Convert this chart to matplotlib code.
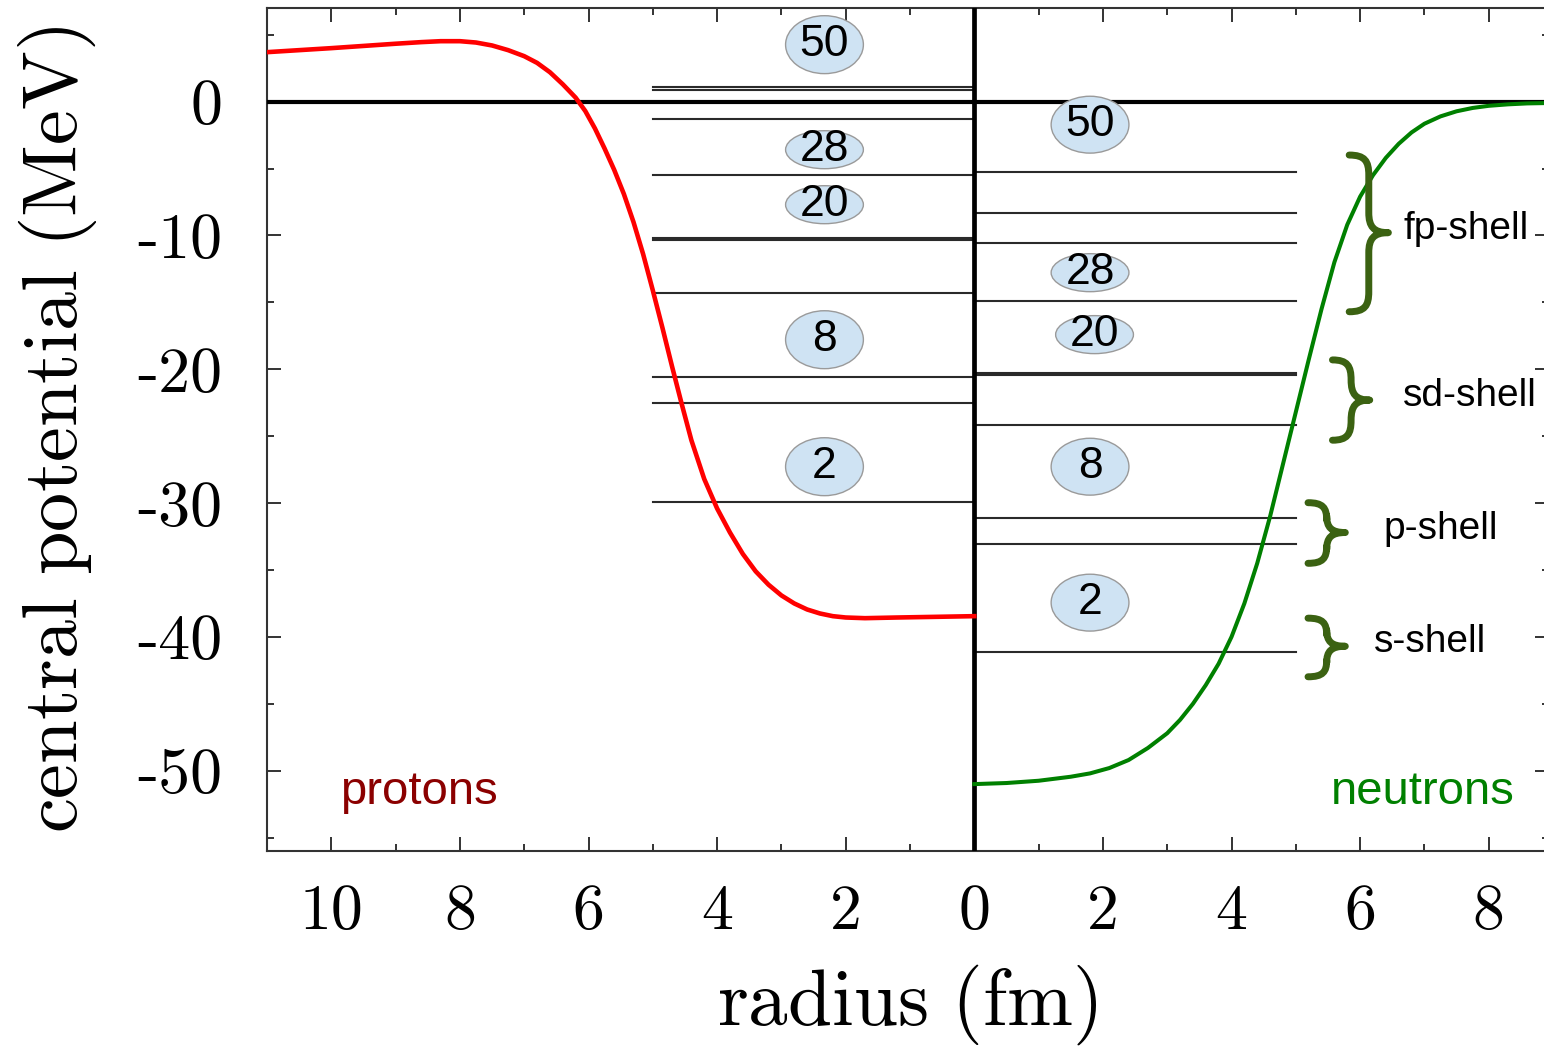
import numpy as np
import matplotlib
matplotlib.use("Agg")
import matplotlib.pyplot as plt
from matplotlib.patches import Ellipse, PathPatch
from matplotlib.path import Path

plt.rcParams['mathtext.fontset'] = 'cm'

# proton central potential (radius in fm, V in MeV), drawn mirrored at -r
p_r = [0.0, 0.6, 1.2, 1.7, 2.0, 2.2, 2.4, 2.6, 2.8, 3.0, 3.2, 3.4, 3.6, 3.8, 4.0,
       4.2, 4.4, 4.55, 4.7, 4.85, 5.0, 5.15, 5.3, 5.45, 5.6, 5.75, 5.9, 6.05, 6.2,
       6.4, 6.6, 6.8, 7.0, 7.25, 7.5, 7.75, 8.0, 8.3, 8.6, 9.0, 10.0, 11.0]
p_v = [-38.45, -38.5, -38.55, -38.6, -38.55, -38.45, -38.25, -37.95, -37.5, -36.9,
       -36.1, -35.1, -33.8, -32.2, -30.4, -28.2, -25.3, -22.6, -19.8, -16.9, -14.1,
       -11.4, -9.0, -6.9, -5.1, -3.5, -2.0, -0.7, 0.3, 1.3, 2.2, 2.9, 3.4, 3.85, 4.2,
       4.42, 4.52, 4.52, 4.45, 4.33, 4.0, 3.7]

# neutron central potential
n_r = [0.0, 0.5, 1.0, 1.5, 1.8, 2.1, 2.4, 2.7, 3.0, 3.2, 3.4, 3.6, 3.8, 4.0, 4.2,
       4.4, 4.6, 4.8, 5.0, 5.2, 5.4, 5.6, 5.8, 6.0, 6.2, 6.4, 6.6, 6.8, 7.0, 7.25,
       7.5, 7.75, 8.0, 8.3, 8.6, 8.95]
n_v = [-51.0, -50.92, -50.75, -50.45, -50.2, -49.8, -49.2, -48.3, -47.2, -46.2,
       -45.0, -43.6, -42.0, -40.0, -37.5, -34.5, -31.0, -27.1, -23.2, -19.3, -15.5,
       -12.0, -9.2, -7.1, -5.5, -4.2, -3.15, -2.3, -1.65, -1.1, -0.72, -0.47, -0.31,
       -0.2, -0.13, -0.1]

# single-particle levels (MeV)
p_levels = [1.12, 0.84, -1.27, -5.51, -10.16, -10.31, -14.3, -20.57, -22.5, -29.9]
n_levels = [-5.23, -8.32, -10.56, -14.89, -20.25, -20.45, -24.2, -31.15, -33.03, -41.1]

# magic numbers in the gaps (label, energy of bubble centre)
p_magic = ['50', '28', '20', '8', '2']
p_magic_e = [4.26, -3.59, -7.7, -17.79, -27.28]
n_magic = ['50', '28', '20', '8', '2']
n_magic_e = [-1.72, -12.78, -17.41, -27.28, -37.44]

# shell braces: label, top, bottom, tip energy
shells = ['fp-shell', 'sd-shell', 'p-shell', 's-shell']
shell_top = [-3.99, -19.3, -29.97, -38.6]
shell_bot = [-15.7, -25.3, -34.5, -42.98]
shell_tip = [-9.79, -22.3, -32.2, -40.7]
brace_x = [(5.83, 6.44), (5.57, 6.15), (5.19, 5.77), (5.19, 5.77)]
label_x = [6.67, 6.66, 6.36, 6.21]

brace_col = '#3b6212'
sans = 'Liberation Sans'


def draw_brace(ax, x0, x1, yt, yb, ytip, color, lw):
    xm = 0.5 * (x0 + x1)
    c = min(0.28 * (yt - yb), 1.5)
    verts = [(x0, yt), (x0 + 0.8 * (xm - x0), yt), (xm, yt - 0.3 * c), (xm, yt - c),
             (xm, ytip + c),
             (xm, ytip + 0.3 * c), (xm + 0.25 * (x1 - xm), ytip), (x1, ytip),
             (xm + 0.25 * (x1 - xm), ytip), (xm, ytip - 0.3 * c), (xm, ytip - c),
             (xm, yb + c),
             (xm, yb + 0.3 * c), (x0 + 0.8 * (xm - x0), yb), (x0, yb)]
    codes = [Path.MOVETO, Path.CURVE4, Path.CURVE4, Path.CURVE4,
             Path.LINETO,
             Path.CURVE4, Path.CURVE4, Path.CURVE4,
             Path.CURVE4, Path.CURVE4, Path.CURVE4,
             Path.LINETO,
             Path.CURVE4, Path.CURVE4, Path.CURVE4]
    ax.add_patch(PathPatch(Path(verts, codes), fc='none', ec=color, lw=lw,
                           capstyle='round', joinstyle='round', zorder=5))


fig = plt.figure(figsize=(15.44, 10.5), dpi=100)
ax = fig.add_axes([267 / 1544, 199 / 1050, 1281.5 / 1544, 843 / 1050])
ax.set_xlim(-11, 8.93)
ax.set_ylim(-56, 7)

# levels
for e in p_levels:
    ax.plot([-5, 0], [e, e], color='#2a2a2a', lw=1.5, zorder=2)
for e in n_levels:
    ax.plot([0, 5], [e, e], color='#2a2a2a', lw=1.5, zorder=2)

ax.axhline(0, color='black', lw=3.0, zorder=3)
ax.axvline(0, color='black', lw=3.4, zorder=3)

ax.plot(-np.array(p_r), p_v, color='#ff0000', lw=3.3, zorder=4,
        solid_joinstyle='round')
ax.plot(n_r, n_v, color='#008000', lw=2.9, zorder=4, solid_joinstyle='round')

# magic number bubbles
for lab, e in zip(p_magic, p_magic_e):
    h = 2.84 if lab in ('28', '20') else 4.33
    ax.add_patch(Ellipse((-2.33, e), 1.21, h, fc='#cfe3f3', ec='#9a9a9a', lw=1.0, zorder=5))
    ax.text(-2.33, e, lab, ha='center', va='center', fontsize=32, family=sans, zorder=6)
for lab, e in zip(n_magic, n_magic_e):
    h = 2.84 if lab in ('28', '20') else 4.25
    xc = 1.87 if lab == '20' else 1.80
    ax.add_patch(Ellipse((xc, e), 1.21, h, fc='#cfe3f3', ec='#9a9a9a', lw=1.0, zorder=5))
    ax.text(xc, e, lab, ha='center', va='center', fontsize=32, family=sans, zorder=6)

# shell braces
for lab, yt, yb, yp, (x0, x1), lx in zip(shells, shell_top, shell_bot, shell_tip,
                                          brace_x, label_x):
    draw_brace(ax, x0, x1, yt, yb, yp, brace_col, 5.0)
    ax.text(lx, yp + 0.3, lab, ha='left', va='center', fontsize=28, family=sans)

ax.text(-9.86, -51.6, 'protons', color='#8b0000', fontsize=34, family=sans,
        ha='left', va='center')
ax.text(5.54, -51.6, 'neutrons', color='#008000', fontsize=34, family=sans,
        ha='left', va='center')

# ticks
xt = np.arange(-10, 9, 2)
ax.set_xticks(xt)
ax.set_xticklabels([str(abs(int(v))) for v in xt], family='cmr10', fontsize=46)
ax.set_xticks(np.arange(-11, 9, 1), minor=True)
yt_ = np.arange(-50, 1, 10)
ax.set_yticks(yt_)
ax.set_yticklabels([str(int(v)) for v in yt_], family='cmr10', fontsize=46)
ax.set_yticks(np.arange(-55, 6, 5), minor=True)
ax.tick_params(which='both', direction='in', top=True, right=True,
               color='#333333', width=1.4)
ax.tick_params(which='major', length=10)
ax.tick_params(which='minor', length=5)
ax.tick_params(axis='x', pad=24)
ax.tick_params(axis='y', pad=32)
for s in ax.spines.values():
    s.set_linewidth(1.5)
    s.set_color('#333333')

fig.text(907 / 1544, 1 - 1005 / 1050, r'$\mathrm{radius\ (fm)}$', fontsize=57,
         ha='center', va='center')
fig.text(58 / 1544, 1 - 430 / 1050, r'$\mathrm{central\ potential\ (MeV)}$',
         fontsize=56.5, ha='center', va='center', rotation=90)

fig.savefig('out.png', dpi=100)
